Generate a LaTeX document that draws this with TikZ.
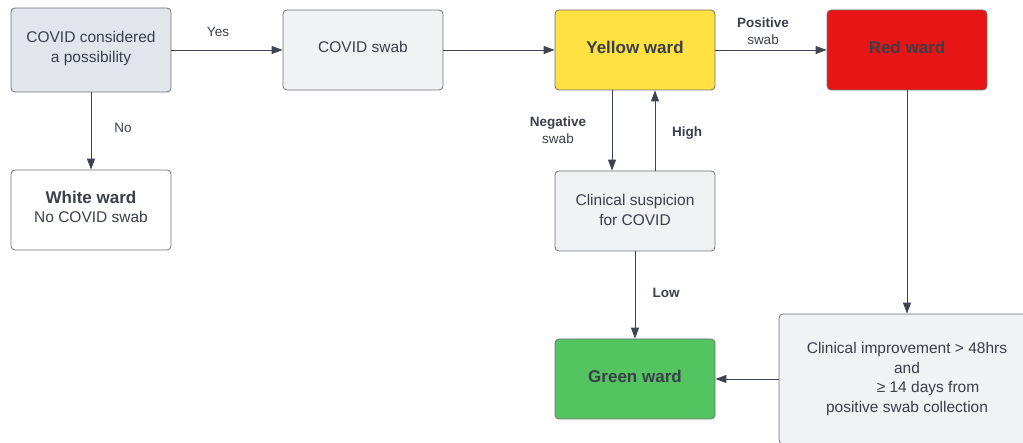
\documentclass[tikz,border=0pt]{standalone}
\usepackage{fontspec}
\setmainfont{Liberation Sans}
\usetikzlibrary{arrows.meta}
\definecolor{txt}{HTML}{3A3F4A}
\definecolor{bordc}{HTML}{6E727A}
\definecolor{linec}{HTML}{3D4350}
\definecolor{boxA}{HTML}{E2E5EA}
\definecolor{boxB}{HTML}{F1F2F4}
\definecolor{yellowc}{HTML}{FFE142}
\definecolor{redc}{HTML}{E71515}
\definecolor{greenc}{HTML}{53C45F}
\begin{document}
\begin{tikzpicture}[x=1pt,y=-1pt,
  box/.style={draw=bordc, line width=0.8pt, rounded corners=4pt, minimum width=160pt,
    minimum height=80pt, text=txt, align=center, inner sep=0pt,
    font=\fontsize{15.5}{19.5}\selectfont},
  title/.style={font=\fontsize{17}{20}\selectfont\bfseries, text depth=5.5pt},
  conn/.style={draw=linec, line width=0.9pt, -{Triangle[length=11pt,width=8pt]}},
  lab/.style={text=txt, align=center, inner sep=0pt, font=\fontsize{13.5}{17}\selectfont},
  blab/.style={lab, font=\fontsize{13.5}{17}\selectfont\bfseries}]
\useasboundingbox (0,0) rectangle (1023,443);
\node[box, fill=boxA, minimum height=84pt, text depth=6.5pt] (consider) at (91,50) {COVID considered\\a possibility};
\node[box, fill=boxB, text depth=7pt] (swab) at (363,50) {COVID swab};
\node[box, title, fill=yellowc] (yellow) at (635,50) {Yellow ward};
\node[box, title, fill=redc] (red) at (907,50) {Red ward};
\node[box, fill=white, text depth=6.5pt] (white) at (91,210) {{\fontsize{17}{20}\selectfont\bfseries White ward}\\No COVID swab};
\node[box, fill=boxB, text depth=2.5pt] (suspicion) at (635,211) {Clinical suspicion\\for COVID};
\node[box, title, fill=greenc] (green) at (635,379) {Green ward};
\node[box, fill=boxB, minimum width=256pt, minimum height=130pt] (improve) at (907,379)
  {Clinical improvement > 48hrs\\and\\\hspace*{42pt}≥ 14 days from\\positive swab collection};

\draw[conn] (consider) -- (swab);
\draw[conn] (consider) -- (white);
\draw[conn] (swab) -- (yellow);
\draw[conn] (yellow) -- (red);
\draw[conn] ([xshift=-23pt]yellow.south) -- ([xshift=-23pt]suspicion.north);
\draw[conn] ([xshift=20pt]suspicion.north) -- ([xshift=20pt]yellow.south);
\draw[conn] (suspicion) -- (green);
\draw[conn] (red) -- (improve);
\draw[conn] (improve) -- (green);

\node[lab] (yes) at (218,32) {Yes};
\node[lab] (no) at (123,128) {No};
\node[lab] (pos) at (763,31) {\textbf{Positive}\\swab};
\node[lab] (neg) at (558,130.5) {\textbf{Negative}\\swab};
\node[blab] (high) at (687,133) {High};
\node[blab] (low) at (666,293) {Low};
\end{tikzpicture}
\end{document}
